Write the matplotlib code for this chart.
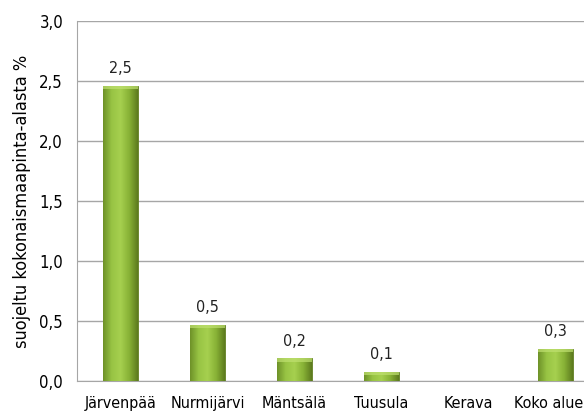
import numpy as np
import matplotlib.pyplot as plt
import matplotlib.transforms as mtransforms
from matplotlib.colors import LinearSegmentedColormap
from matplotlib import font_manager

# Tiedot
kunnat = ['Järvenpää', 'Nurmijärvi', 'Mäntsälä', 'Tuusula', 'Kerava', 'Koko alue']
osuus = [2.46, 0.47, 0.19, 0.075, 0.0, 0.27]
nimikkeet = ['2,5', '0,5', '0,2', '0,1', '', '0,3']
y_ticks = [0.0, 0.5, 1.0, 1.5, 2.0, 2.5, 3.0]

nimet = {f.name for f in font_manager.fontManager.ttflist}
if 'Liberation Sans Narrow' in nimet:
    plt.rcParams['font.family'] = ['Liberation Sans Narrow', 'DejaVu Sans']
else:
    plt.rcParams['font.family'] = ['DejaVu Sans']
    plt.rcParams['font.stretch'] = 'condensed'

fig = plt.figure(figsize=(5.84, 4.16), dpi=100)
ax = fig.add_axes([77 / 584, 1 - 381 / 416, 522 / 584, 360 / 416])

x = np.arange(len(kunnat))
bars = ax.bar(x, osuus, width=0.4, color='#8cb33a', edgecolor='#5f7d22', linewidth=0.6, zorder=3)

# Vaakasuuntainen liukuväri pylväisiin
cmap = LinearSegmentedColormap.from_list('vihrea', ['#6d9128', '#98c444', '#a6d04f', '#88b236', '#5c7a1e'])
grad = np.linspace(0, 1, 256).reshape(1, -1)
for b in bars:
    if b.get_height() <= 0:
        continue
    x0, y0 = b.get_x(), b.get_y()
    im = ax.imshow(grad, cmap=cmap, aspect='auto', extent=(x0, x0 + b.get_width(), y0, y0 + b.get_height()),
                   zorder=3.5)
    im.set_clip_path(b)
    # viiste ylareunaan
    ax.fill_between([x0, x0 + b.get_width()], y0 + b.get_height() - min(0.03, b.get_height() * 0.3),
                    y0 + b.get_height(), color='#bfe070', alpha=0.7, zorder=3.6, linewidth=0)

for xi, v, t in zip(x, osuus, nimikkeet):
    if t:
        ax.text(xi, v + 0.08, t, ha='center', va='bottom', fontsize=11.5, color='#222222')

ax.set_xlim(-0.5, len(kunnat) - 0.5)
ax.set_ylim(0, 3.0)
ax.set_yticks(y_ticks)
ax.set_yticklabels([f'{t:.1f}'.replace('.', ',') for t in y_ticks], fontsize=12)
ax.set_xticks(x)
ax.set_xticklabels(kunnat, fontsize=11.5)
ax.tick_params(axis='x', length=0, pad=11)
ax.tick_params(axis='y', length=0, pad=10)
# viimeinen nimike siirretaan vasemmalle, jotta se mahtuu kuvaan
viimeinen = ax.get_xticklabels()[-1]
viimeinen.set_transform(viimeinen.get_transform() + mtransforms.ScaledTranslation(-7 / 100, 0, fig.dpi_scale_trans))
ax.grid(axis='y', color='#a6a6a6', linewidth=1, zorder=0)
for s in ['top', 'right']:
    ax.spines[s].set_visible(False)
ax.spines['left'].set_color('#a6a6a6')
ax.spines['bottom'].set_color('#a6a6a6')
ax.set_ylabel('suojeltu kokonaismaapinta-alasta %', fontsize=13, labelpad=6)

fig.savefig('out.png', dpi=100)
